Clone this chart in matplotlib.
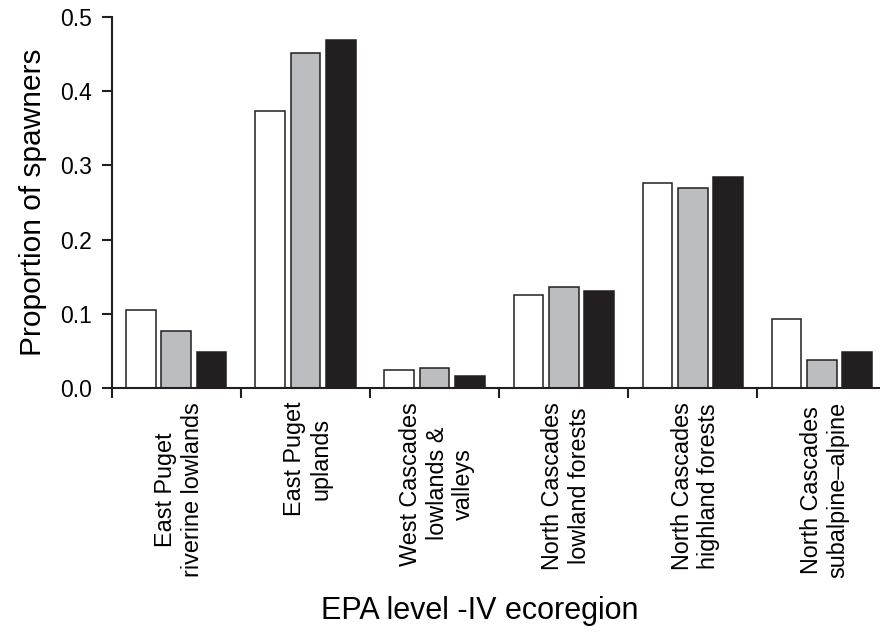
import matplotlib.pyplot as plt
import numpy as np

plt.rcParams['font.family'] = ['Liberation Sans', 'DejaVu Sans']

# Proportion of spawners per EPA level-IV ecoregion, three series
regions = ["East Puget\nriverine lowlands", "East Puget\nuplands",
           "West Cascades\nlowlands &\nvalleys", "North Cascades\nlowland forests",
           "North Cascades\nhighland forests", "North Cascades\nsubalpine\u2013alpine"]
series_white = [0.105, 0.374, 0.024, 0.126, 0.276, 0.093]
series_gray = [0.077, 0.452, 0.027, 0.136, 0.269, 0.038]
series_black = [0.049, 0.469, 0.016, 0.131, 0.284, 0.049]

fig = plt.figure(figsize=(8.8, 6.32), dpi=100)
ax = fig.add_axes([0.127, 0.386, 0.873, 0.587])

x = np.arange(len(regions))
w = 0.23
step = 0.273
ax.bar(x - step, series_white, w, color='white', edgecolor='#231f20', linewidth=1.1)
ax.bar(x, series_gray, w, color='#bcbdc0', edgecolor='#231f20', linewidth=1.1)
ax.bar(x + step, series_black, w, color='#231f20', edgecolor='#231f20', linewidth=1.1)

ax.set_xlim(-0.5, 5.45)
ax.set_ylim(0, 0.5)
ax.set_yticks(np.arange(0, 0.51, 0.1))
ax.set_yticklabels([f"{v:.1f}" for v in np.arange(0, 0.51, 0.1)], fontsize=16.5)

# group boundary ticks, labels at group centres
ax.set_xticks(x - 0.5)
ax.set_xticklabels([])
ax.set_xticks(x + 0.02, minor=True)
ax.set_xticklabels(regions, minor=True, rotation=90, fontsize=16.8,
                   ha='center', va='top', multialignment='center')
ax.tick_params(axis='x', which='minor', length=0, pad=10)
ax.tick_params(axis='both', which='major', direction='out', length=7, width=1.5,
               color='#231f20')
ax.tick_params(axis='y', pad=7)

for s in ['top', 'right']:
    ax.spines[s].set_visible(False)
for s in ['left', 'bottom']:
    ax.spines[s].set_linewidth(1.5)
    ax.spines[s].set_color('#231f20')

ax.set_ylabel("Proportion of spawners", fontsize=21.5, labelpad=10)
fig.text(0.545, 0.034, "EPA level -IV ecoregion", fontsize=22, ha='center', va='center',
         family=['Liberation Sans Narrow', 'Liberation Sans', 'DejaVu Sans'])

fig.savefig("out.png", dpi=100)
